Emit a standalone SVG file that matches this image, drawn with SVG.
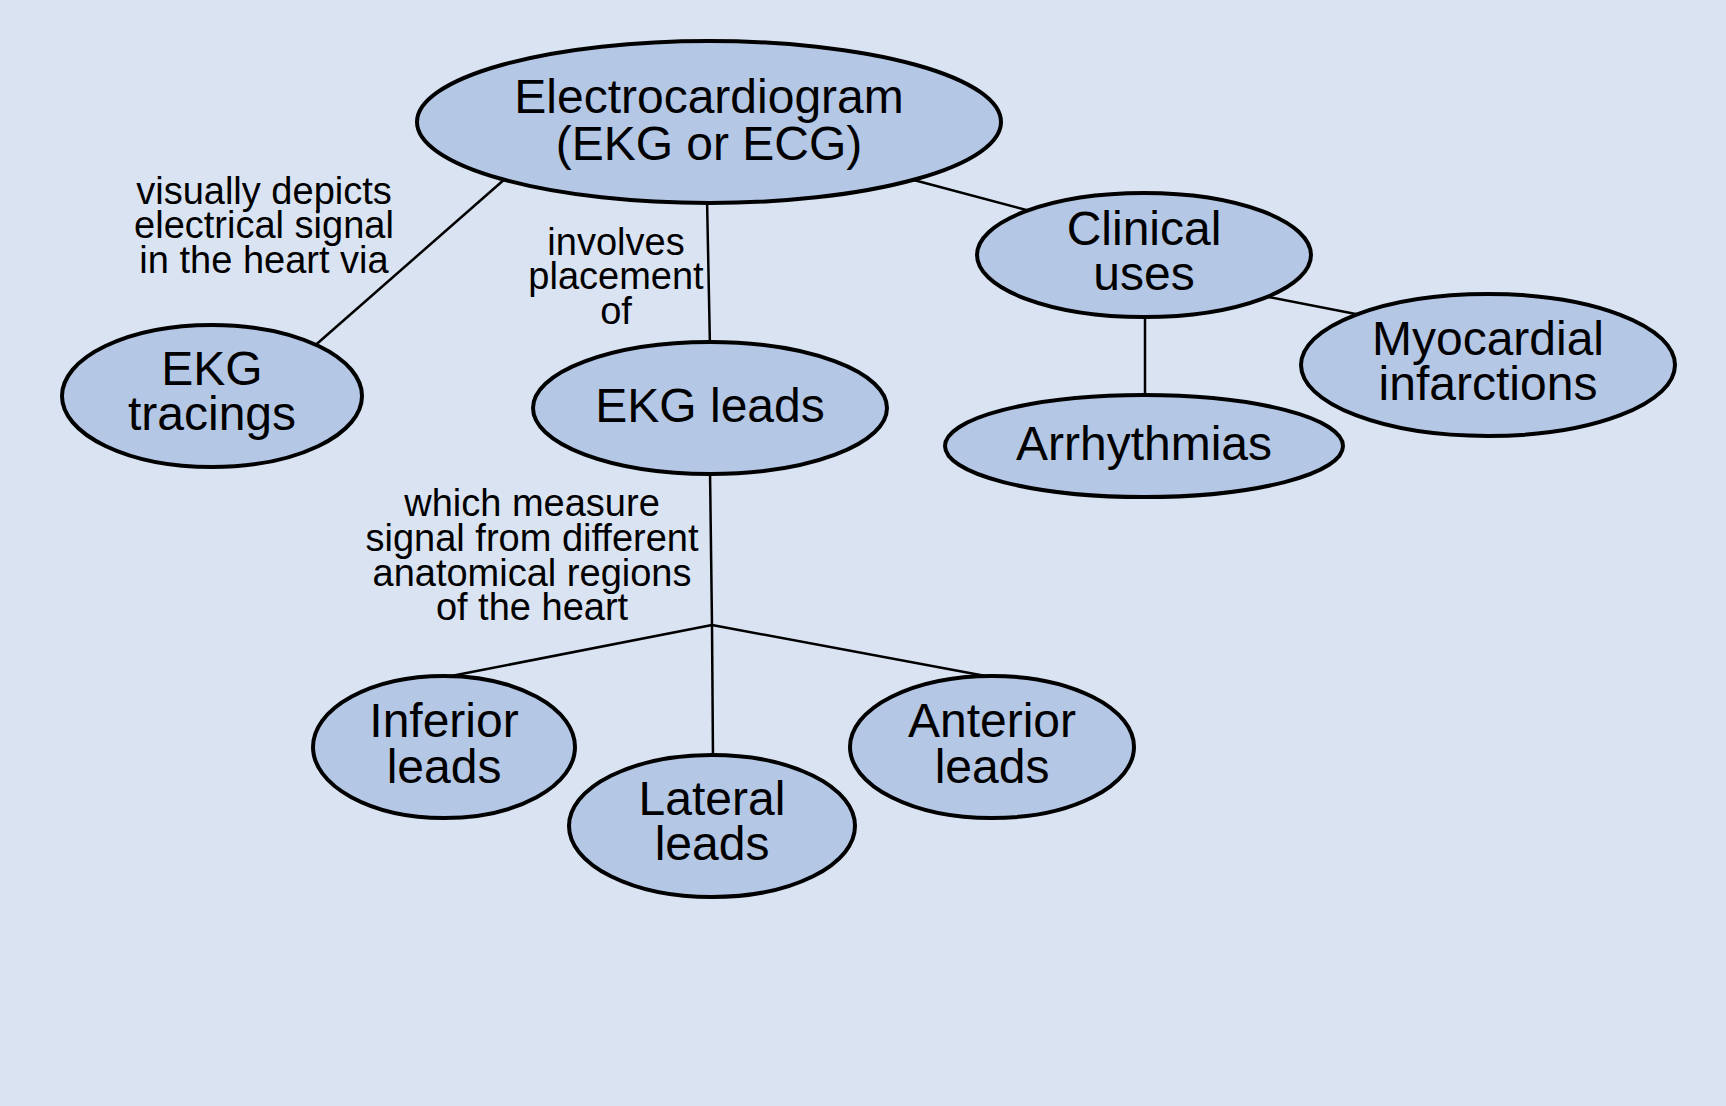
<svg xmlns="http://www.w3.org/2000/svg" width="1726" height="1106" viewBox="0 0 1726 1106">
<style>
.bg{fill:#dae3f1}
.node ellipse{fill:#b4c7e5;stroke:#000;stroke-width:4}
.node text{font-family:"Liberation Sans",Arial,sans-serif;font-size:48px;fill:#000;text-anchor:middle}
.edges line{stroke:#000;stroke-width:2.5;fill:none}
.lbl{font-family:"Liberation Sans",Arial,sans-serif;font-size:38px;fill:#000;text-anchor:middle}
</style>
<rect class="bg" x="0" y="0" width="1726" height="1106"/>
<g id="connectors" class="edges">
<line x1="506" y1="178" x2="311" y2="349"/>
<line x1="707" y1="198" x2="710" y2="348"/>
<line x1="910" y1="179" x2="1034" y2="212"/>
<line x1="1258" y1="295" x2="1366" y2="316"/>
<line x1="1145" y1="312" x2="1145" y2="400"/>
<line x1="710" y1="470" x2="712" y2="625"/>
<line x1="712" y1="625" x2="446" y2="677"/>
<line x1="712" y1="625" x2="713" y2="760"/>
<line x1="712" y1="625" x2="991" y2="677"/>
<text class="lbl" x="264" y="204">visually depicts</text>
<text class="lbl" x="264" y="238">electrical signal</text>
<text class="lbl" x="264" y="273">in the heart via</text>
<text class="lbl" x="616" y="255">involves</text>
<text class="lbl" x="616" y="289">placement</text>
<text class="lbl" x="616" y="324">of</text>
<text class="lbl" x="532" y="516">which measure</text>
<text class="lbl" x="532" y="551">signal from different</text>
<text class="lbl" x="532" y="586">anatomical regions</text>
<text class="lbl" x="532" y="620">of the heart</text>
</g>
<g id="ecg" class="node">
<ellipse cx="709" cy="122" rx="292" ry="81"/>
<text x="709" y="113">Electrocardiogram</text>
<text x="709" y="160">(EKG or ECG)</text>
</g>
<g id="clinical" class="node">
<ellipse cx="1144" cy="255" rx="167" ry="62"/>
<text x="1144" y="245">Clinical</text>
<text x="1144" y="290">uses</text>
</g>
<g id="myocardial" class="node">
<ellipse cx="1488" cy="365" rx="187" ry="71"/>
<text x="1488" y="355">Myocardial</text>
<text x="1488" y="400">infarctions</text>
</g>
<g id="arrhythmias" class="node">
<ellipse cx="1144" cy="446" rx="199" ry="51"/>
<text x="1144" y="460">Arrhythmias</text>
</g>
<g id="tracings" class="node">
<ellipse cx="212" cy="396" rx="150" ry="71"/>
<text x="212" y="385">EKG</text>
<text x="212" y="430">tracings</text>
</g>
<g id="leads" class="node">
<ellipse cx="710" cy="408" rx="177" ry="66"/>
<text x="710" y="422">EKG leads</text>
</g>
<g id="inferior" class="node">
<ellipse cx="444" cy="747" rx="131" ry="71"/>
<text x="444" y="737">Inferior</text>
<text x="444" y="783">leads</text>
</g>
<g id="lateral" class="node">
<ellipse cx="712" cy="826" rx="143" ry="71"/>
<text x="712" y="815">Lateral</text>
<text x="712" y="860">leads</text>
</g>
<g id="anterior" class="node">
<ellipse cx="992" cy="747" rx="142" ry="71"/>
<text x="992" y="737">Anterior</text>
<text x="992" y="783">leads</text>
</g>
</svg>
